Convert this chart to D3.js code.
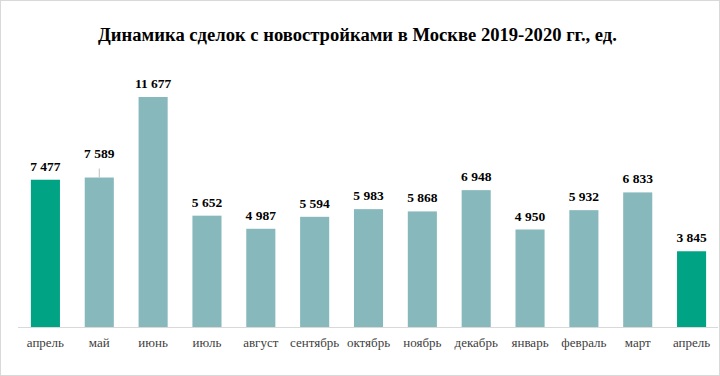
<!DOCTYPE html>
<html>
<head>
<meta charset="utf-8">
<script src="https://cdn.jsdelivr.net/npm/d3@7"></script>
<style>
  body { margin: 0; background: #fff; }
  svg { display: block; }
  text { font-family: "Liberation Serif", "Times New Roman", serif; }
</style>
</head>
<body>
<div id="root"></div>
<script>
const width = 720;
const height = 376;

const months = ["апрель", "май", "июнь", "июль", "август", "сентябрь", "октябрь", "ноябрь", "декабрь", "январь", "февраль", "март", "апрель"];
const deals = [7477, 7589, 11677, 5652, 4987, 5594, 5983, 5868, 6948, 4950, 5932, 6833, 3845];
const highlight = [true, false, false, false, false, false, false, false, false, false, false, false, true];

const GREEN = "#00A383";
const TEAL = "#86B8BC";

const svg = d3.select("#root")
  .append("svg")
    .attr("width", width)
    .attr("height", height);

// рамка
svg.append("rect")
  .attr("x", 0.5).attr("y", 0.5)
  .attr("width", width - 1).attr("height", height - 1)
  .attr("fill", "#fff")
  .attr("stroke", "#d9d9d9");

svg.append("text")
  .attr("x", 357.5)
  .attr("y", 40.5)
  .attr("text-anchor", "middle")
  .style("font-weight", "bold")
  .style("font-size", "18.6px")
  .attr("fill", "#000")
  .text("Динамика сделок с новостройками в Москве 2019-2020 гг., ед.");

const x = d3.scaleBand()
  .domain(d3.range(months.length))
  .range([18.5, 718.5])
  .paddingInner(0.46)
  .paddingOuter(0.23);

const y = d3.scaleLinear()
  .domain([0, 11677])
  .range([327, 97]);

// столбцы
svg.append("g")
  .selectAll("rect")
  .data(deals)
  .enter()
  .append("rect")
    .attr("x", (d, i) => x(i))
    .attr("y", d => y(d))
    .attr("width", x.bandwidth())
    .attr("height", d => y(0) - y(d))
    .attr("fill", (d, i) => highlight[i] ? GREEN : TEAL);

// ось X
svg.append("line")
  .attr("x1", 18).attr("x2", 718)
  .attr("y1", 327.5).attr("y2", 327.5)
  .attr("stroke", "#d9d9d9");

// подписи значений (у "май" подпись поднята, с выноской)
const lift = deals.map((d, i) => i === 1 ? 11 : 0);
const fmt = v => d3.format(",")(v).replace(",", " ");
const lifted = d3.range(deals.length).filter(i => lift[i] > 0);

svg.append("g")
  .selectAll("line")
  .data(lifted)
  .enter()
  .append("line")
    .attr("x1", i => x(i) + x.bandwidth() / 2)
    .attr("x2", i => x(i) + x.bandwidth() / 2)
    .attr("y1", i => y(deals[i]) - 9)
    .attr("y2", i => y(deals[i]))
    .attr("stroke", "#bfbfbf");

svg.append("g")
  .selectAll("text")
  .data(deals)
  .enter()
  .append("text")
    .attr("x", (d, i) => x(i) + x.bandwidth() / 2)
    .attr("y", (d, i) => y(d) - 9 - lift[i])
    .attr("text-anchor", "middle")
    .style("font-weight", "bold")
    .style("font-size", "13.5px")
    .attr("fill", "#000")
    .text(d => fmt(d));

// подписи категорий
svg.append("g")
  .selectAll("text")
  .data(months)
  .enter()
  .append("text")
    .attr("x", (d, i) => x(i) + x.bandwidth() / 2)
    .attr("y", 347)
    .attr("text-anchor", "middle")
    .style("font-size", "13px")
    .attr("fill", "#404040")
    .text(d => d);
</script>
</body>
</html>
